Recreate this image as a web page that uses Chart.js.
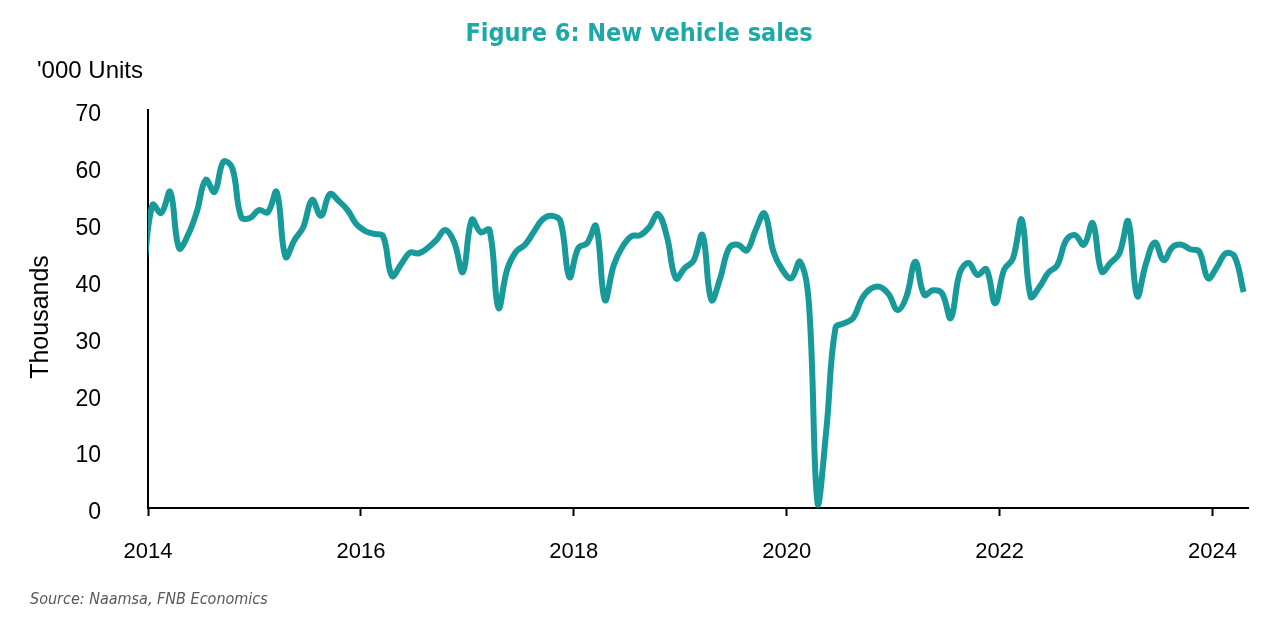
<!DOCTYPE html>
<html>
<head>
<meta charset="utf-8">
<title>New vehicle sales</title>
<script src="https://cdn.jsdelivr.net/npm/chart.js@4.4.1/dist/chart.umd.min.js"></script>
<style>
  html, body { margin: 0; padding: 0; background: #ffffff; }
  #wrap { width: 1280px; height: 621px; position: relative; }
</style>
</head>
<body>
<div id="wrap"><canvas id="salesChart"></canvas></div>
<script>
// Monthly new vehicle sales ('000 units), Dec 2013 .. Apr 2024
const startYear = 2013;
const startMonth = 12;
const sales = [
  41.5,
  53.3, 51.9, 55.6, 45.7, 48.0, 52.1, 57.7, 55.6, 60.9, 59.8, 51.2, 51.0, // 2014
  52.4, 52.0, 55.6, 44.2, 47.1, 49.4, 54.2, 51.4, 55.2, 54.0, 52.4, 49.9, // 2015
  48.7, 48.2, 47.8, 40.8, 42.8, 44.9, 44.8, 45.7, 47.1, 48.9, 46.8, 41.5, // 2016
  50.7, 48.5, 48.9, 35.2, 42.0, 45.1, 46.3, 48.6, 50.8, 51.4, 50.4, 40.6, // 2017
  45.7, 46.6, 49.6, 36.6, 42.7, 46.0, 47.8, 48.0, 49.4, 51.7, 47.7, 40.4, // 2018
  42.2, 43.5, 48.0, 36.6, 40.4, 45.7, 46.3, 45.3, 48.9, 51.8, 45.1, 41.9, // 2019
  40.4, 43.3, 36.0,  0.6, 14.3, 31.7, 32.5, 33.4, 36.9, 38.6, 38.9, 37.6, // 2020
  34.8, 37.2, 43.3, 37.5, 38.3, 37.8, 33.4, 41.3, 43.1, 41.0, 42.0, 36.0, // 2021
  41.9, 43.9, 50.7, 37.2, 38.9, 41.4, 42.7, 47.1, 48.0, 46.3, 50.1, 41.6, // 2022
  43.1, 44.8, 50.4, 37.3, 43.0, 46.7, 43.6, 45.9, 46.3, 45.5, 45.1, 40.4, // 2023
  42.4, 44.8, 44.2, 38.0                                                  // 2024
];
const yearTicks = [2014, 2016, 2018, 2020, 2022, 2024];
const xMin = 2014;
const xMax = 2024 + 4 / 12; // end of April 2024

const titleText = "Figure 6: New vehicle sales";
const unitText = "'000 Units";
const axisTitle = "Thousands";
const sourceText = "Source: Naamsa, FNB Economics";

const teal = "#179a99";
const axisFont = "'Liberation Sans', Arial, sans-serif";

// each month sits in the middle of its own slot on the year axis
const points = sales.map((v, i) => {
  const m = startMonth - 1 + i;
  return { x: startYear + Math.floor(m / 12) + ((m % 12) + 0.5) / 12, y: v };
});

// texts that sit outside the plot area
const chartText = {
  id: "chartText",
  afterDraw(chart) {
    const ctx = chart.ctx;
    ctx.save();
    ctx.textBaseline = "middle";

    ctx.fillStyle = "#1ea8a7";
    ctx.textAlign = "center";
    ctx.font = "bold 25px 'DejaVu Sans Condensed', 'Liberation Sans Narrow', sans-serif";
    ctx.fillText(titleText, 639, 34);

    ctx.fillStyle = "#000";
    ctx.textAlign = "left";
    ctx.font = "24px " + axisFont;
    ctx.fillText(unitText, 37, 71);

    // y axis title, a little below the middle of the axis as in the original
    ctx.save();
    ctx.translate(41, 317);
    ctx.rotate(-Math.PI / 2);
    ctx.textAlign = "center";
    ctx.font = "25px " + axisFont;
    ctx.fillText(axisTitle, 0, 0);
    ctx.restore();

    ctx.fillStyle = "#595959";
    ctx.textAlign = "left";
    ctx.font = "italic 16px 'DejaVu Sans Condensed', 'Liberation Sans Narrow', sans-serif";
    ctx.fillText(sourceText, 30, 600);
    ctx.restore();
  }
};

const ctx = document.getElementById("salesChart").getContext("2d");
const chart = new Chart(ctx, {
  type: "line",
  data: {
    datasets: [{
      label: "New vehicle sales",
      data: points,
      borderColor: teal,
      borderWidth: 6,
      pointRadius: 0,
      tension: 0.4,
      fill: false,
      clip: { left: 0, top: 6, right: 6, bottom: 3 }
    }]
  },
  options: {
    responsive: true,
    maintainAspectRatio: false,
    animation: false,
    layout: { padding: { top: 110, right: 32, bottom: 0, left: 0 } },
    plugins: {
      legend: { display: false },
      tooltip: { enabled: false }
    },
    scales: {
      x: {
        type: "linear",
        min: xMin,
        max: xMax,
        afterBuildTicks: (scale) => {
          scale.ticks = yearTicks.map((v) => ({ value: v }));
        },
        afterFit: (scale) => { scale.height = 113; },
        grid: {
          display: true,
          drawOnChartArea: false,
          drawTicks: true,
          tickLength: 8,
          tickColor: "#000",
          tickWidth: 2
        },
        border: { display: true, color: "#000", width: 2 },
        ticks: {
          autoSkip: false,
          maxRotation: 0,
          padding: 23,
          color: "#000",
          font: { family: axisFont, size: 22 },
          callback: (v) => String(v)
        }
      },
      y: {
        min: 0,
        max: 70,
        afterFit: (scale) => { scale.width = 148; },
        grid: { display: false, drawTicks: false },
        border: { display: true, color: "#000", width: 2 },
        ticks: {
          stepSize: 10,
          padding: 47,
          labelOffset: 5,
          color: "#000",
          font: { family: axisFont, size: 23 }
        }
      }
    }
  },
  plugins: [chartText]
});
</script>
</body>
</html>
